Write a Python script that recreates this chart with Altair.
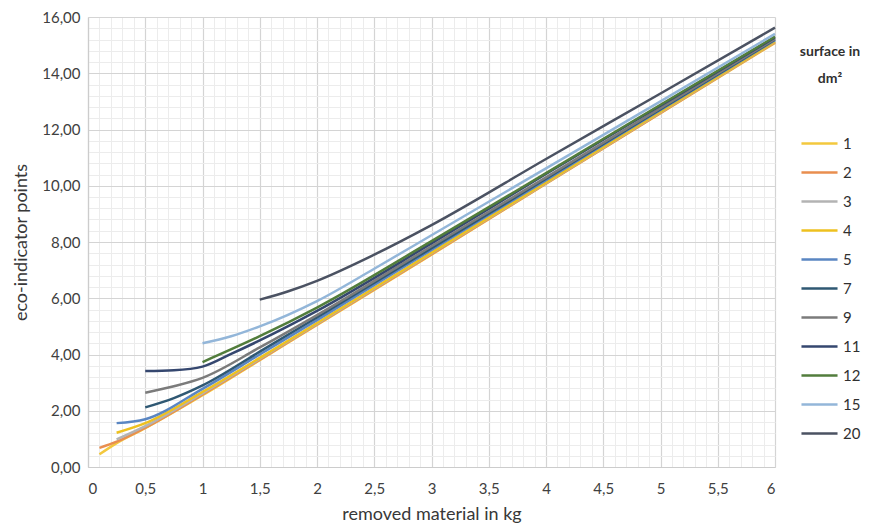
import altair as alt
import pandas as pd

# ---- data ----
surfaces = ["1", "2", "3", "4", "5", "7", "9", "11", "12", "15", "20"]
colors = ["#f3c83e", "#e98e4f", "#b3b3b3", "#eec11f", "#5a86c2", "#2f5873",
          "#7b7b7b", "#35476f", "#527d3c", "#93b6d9", "#4b5262"]

x_1 = [0.1, 0.25, 0.5, 1, 1.5, 2, 3, 4, 5, 6]
y_1 = [0.45, 0.85, 1.38, 2.55, 3.8, 5.05, 7.55, 10.07, 12.58, 15.08]
x_2 = [0.1, 0.25, 0.5, 1, 1.5, 2, 3, 4, 5, 6]
y_2 = [0.68, 0.9, 1.4, 2.58, 3.82, 5.07, 7.57, 10.08, 12.59, 15.1]
x_3 = [0.25, 0.5, 1, 1.5, 2, 3, 4, 5, 6]
y_3 = [0.98, 1.45, 2.62, 3.85, 5.1, 7.6, 10.1, 12.62, 15.12]
x_4 = [0.25, 0.5, 1, 1.5, 2, 3, 4, 5, 6]
y_4 = [1.22, 1.56, 2.67, 3.88, 5.12, 7.62, 10.12, 12.63, 15.13]
x_5 = [0.25, 0.5, 1, 1.5, 2, 3, 4, 5, 6]
y_5 = [1.56, 1.7, 2.78, 4.0, 5.22, 7.72, 10.2, 12.7, 15.18]
x_7 = [0.5, 0.75, 1, 1.5, 2, 3, 4, 5, 6]
y_7 = [2.12, 2.45, 2.9, 4.1, 5.32, 7.78, 10.25, 12.72, 15.2]
x_9 = [0.5, 0.75, 1, 1.5, 2, 3, 4, 5, 6]
y_9 = [2.64, 2.87, 3.17, 4.25, 5.4, 7.85, 10.3, 12.76, 15.22]
x_11 = [0.5, 0.75, 1, 1.25, 1.5, 2, 3, 4, 5, 6]
y_11 = [3.41, 3.44, 3.57, 4.02, 4.5, 5.55, 7.95, 10.42, 12.85, 15.27]
x_12 = [1, 1.5, 2, 3, 4, 5, 6]
y_12 = [3.73, 4.65, 5.67, 8.03, 10.45, 12.88, 15.3]
x_15 = [1, 1.25, 1.5, 2, 2.5, 3, 4, 5, 6]
y_15 = [4.4, 4.65, 5.0, 5.9, 7.05, 8.24, 10.62, 13.0, 15.4]
x_20 = [1.5, 1.75, 2, 2.5, 3, 4, 5, 6]
y_20 = [5.95, 6.25, 6.62, 7.55, 8.6, 10.95, 13.28, 15.62]

series = [("1", x_1, y_1), ("2", x_2, y_2), ("3", x_3, y_3), ("4", x_4, y_4),
          ("5", x_5, y_5), ("7", x_7, y_7), ("9", x_9, y_9), ("11", x_11, y_11),
          ("12", x_12, y_12), ("15", x_15, y_15), ("20", x_20, y_20)]

rows = []
for order, (s, xs, ys) in enumerate(series):
    for xv, yv in zip(xs, ys):
        rows.append({"surface": s, "kg": xv, "points": yv, "ord": order})
df = pd.DataFrame(rows)

x_major = [i * 0.5 for i in range(13)]
y_major = [i * 2 for i in range(9)]
x_minor = [round(i * 0.1, 2) for i in range(61) if i % 5 != 0]
y_minor = [round(i * 0.4, 2) for i in range(41) if i % 5 != 0]

FONT = "Lato"
xscale = alt.Scale(domain=[0, 6], nice=False)
yscale = alt.Scale(domain=[0, 16], nice=False)

minor = alt.Chart(df).mark_line(opacity=0).encode(
    x=alt.X("kg:Q", scale=xscale,
            axis=alt.Axis(values=x_minor, grid=True, gridColor="#ececec", gridWidth=1,
                          labels=False, ticks=False, domain=False, title=None, orient="top")),
    y=alt.Y("points:Q", scale=yscale,
            axis=alt.Axis(values=y_minor, grid=True, gridColor="#ececec", gridWidth=1,
                          labels=False, ticks=False, domain=False, title=None, orient="right")),
    detail="surface:N",
)

lines = alt.Chart(df).mark_line(strokeWidth=2.5, interpolate="monotone").encode(
    x=alt.X("kg:Q", scale=xscale,
            axis=alt.Axis(values=x_major, grid=True, gridColor="#d4d4d4", gridWidth=1.2,
                          ticks=False, domain=True, domainColor="#cccccc", domainWidth=1.2,
                          labelExpr="replace(format(datum.value, '~g'), '.', ',')",
                          labelFont=FONT, labelFontSize=15, labelColor="#404040",
                          labelPadding=14, title="removed material in kg",
                          titleFont=FONT, titleFontSize=18, titleFontWeight="normal",
                          titleColor="#383838", titlePadding=9)),
    y=alt.Y("points:Q", scale=yscale,
            axis=alt.Axis(values=y_major, grid=True, gridColor="#d4d4d4", gridWidth=1.2,
                          ticks=False, domain=True, domainColor="#cccccc", domainWidth=1.2,
                          labelExpr="replace(format(datum.value, '.2f'), '.', ',')",
                          labelFont=FONT, labelFontSize=15, labelColor="#404040",
                          labelPadding=8, title="eco-indicator points",
                          titleFont=FONT, titleFontSize=18, titleFontWeight="normal",
                          titleColor="#383838", titlePadding=11)),
    color=alt.Color("surface:N",
                    scale=alt.Scale(domain=surfaces, range=colors),
                    sort=surfaces,
                    legend=alt.Legend(title=["surface in", "dm²"], orient="none",
                                      legendX=712, legendY=28,
                                      symbolType="stroke", symbolSize=1300,
                                      symbolStrokeWidth=2.5, rowPadding=1,
                                      labelFont=FONT, labelFontSize=15, labelColor="#303030",
                                      titleFont=FONT, titleFontSize=14, titleFontWeight="bold",
                                      titleColor="#303030", titlePadding=38,
                                      titleLineHeight=27,
                                      titleAnchor="middle", titleAlign="center",
                                      padding=0)),
    order="ord:Q",
)

chart = alt.layer(minor, lines).resolve_axis(x="independent", y="independent").properties(
    width=687, height=450,
    autosize=alt.AutoSizeParams(type="none"),
    padding={"left": 80, "top": 9, "right": 87, "bottom": 56},
).configure_view(stroke=None)

chart.save("out.html", embed_options={"renderer": "svg", "actions": False})
